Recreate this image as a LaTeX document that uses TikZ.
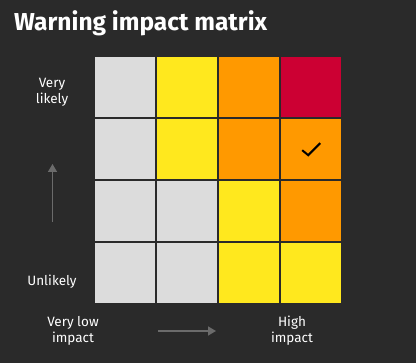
\documentclass[tikz,border=0pt]{standalone}
\usepackage{fontspec}
\setmainfont{Fira Sans}
\usetikzlibrary{arrows.meta,positioning}

\definecolor{bgdark}{HTML}{2A2A2A}
\definecolor{cellgray}{HTML}{DCDCDC}
\definecolor{cellyellow}{HTML}{FFE81E}
\definecolor{cellorange}{HTML}{FF9900}
\definecolor{cellred}{HTML}{CC0033}
\definecolor{axisgray}{HTML}{6B6B6B}

\begin{document}
\begin{tikzpicture}
	[
		x = 1pt, y = -1pt,
		cell/.style = {minimum size = 60pt, inner sep = 0pt, anchor = north west},
		low/.style = {cell, fill=cellgray},
		mid/.style = {cell, fill=cellyellow},
		high/.style = {cell, fill=cellorange},
		top/.style = {cell, fill=cellred},
		axislabel/.style = {text=white, font=\fontsize{13.5}{16}\selectfont, align=center, inner sep=0pt},
		axisarrow/.style = {draw=axisgray, line width=1.5pt, -{Triangle[length=8pt,width=9pt]}}]

	\fill[bgdark] (0,0) rectangle (416,363);
	\useasboundingbox (0,0) rectangle (416,363);

	\node[anchor=base west, text=white, inner sep=0pt, font=\fontsize{24.5}{28}\selectfont\bfseries] (title) at (14,31) {Warning impact matrix};

	% matrix cells, row by row from the top
	\foreach \row/\col/\kind in {1/1/low, 1/2/mid, 1/3/high, 1/4/top,
		2/1/low, 2/2/mid, 2/3/high, 2/4/high,
		3/1/low, 3/2/low, 3/3/mid, 3/4/high,
		4/1/low, 4/2/low, 4/3/mid, 4/4/mid}
		\node[\kind] (c\row\col) at ({95+62*(\col-1)},{57+62*(\row-1)}) {};

	% tick in the chosen cell
	\draw[black, line width=2pt] ([xshift=-9pt,yshift=-1pt]c24.center) -- ([xshift=-3pt,yshift=-6pt]c24.center) -- ([xshift=9pt,yshift=6pt]c24.center);

	\node[axislabel] (likely) at (52,92) {Very\\likely};
	\node[axislabel] (unlikely) at (52,282) {Unlikely};
	\coordinate (upfrom) at (52.5,222);
	\coordinate (upto) at (52.5,164);
	\draw[axisarrow] (upfrom) -- (upto);

	\node[axislabel] (lowimpact) at (73,331) {Very low\\impact};
	\node[axislabel] (highimpact) at (292,331) {High\\impact};
	\coordinate (rightfrom) at (158,331);
	\coordinate (rightto) at (216,331);
	\draw[axisarrow] (rightfrom) -- (rightto);
\end{tikzpicture}
\end{document}
